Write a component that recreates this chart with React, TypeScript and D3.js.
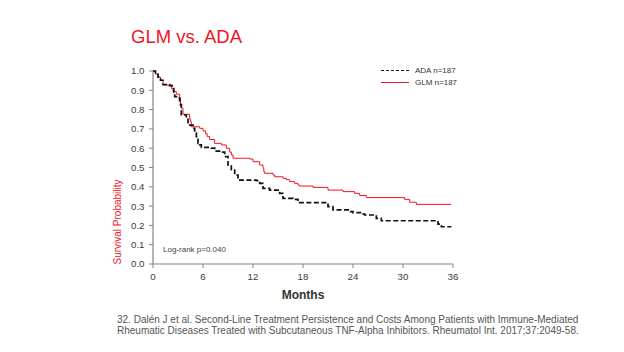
import React from "react";
import * as d3 from "d3";

const glmTimes = [0, 0.3, 0.6, 0.9, 1.2, 2.2, 2.4, 2.8, 3.2, 3.3, 3.4, 3.6, 4.4, 4.5, 4.6, 5.6, 6.0, 6.3, 6.5, 6.8, 7.4, 8.2, 8.8, 9.2, 9.4, 9.6, 11.6, 12.0, 12.8, 13.2, 13.3, 13.4, 14.4, 14.6, 15.6, 16.0, 16.4, 17.0, 17.4, 17.6, 19.2, 21.0, 22.8, 24.2, 24.8, 25.6, 30.2, 30.8, 31.6, 35.8];
const glmSurv = [1.0, 0.984, 0.968, 0.952, 0.927, 0.91, 0.893, 0.88, 0.86, 0.83, 0.807, 0.776, 0.75, 0.737, 0.711, 0.703, 0.69, 0.675, 0.66, 0.645, 0.625, 0.617, 0.6, 0.58, 0.565, 0.548, 0.544, 0.53, 0.513, 0.496, 0.478, 0.47, 0.461, 0.452, 0.444, 0.437, 0.427, 0.418, 0.409, 0.404, 0.397, 0.383, 0.375, 0.366, 0.355, 0.344, 0.335, 0.32, 0.309, 0.309];

const adaTimes = [0, 0.3, 0.6, 0.9, 1.2, 2.0, 2.3, 2.5, 2.6, 3.0, 3.2, 3.3, 3.4, 4.0, 4.2, 4.8, 5.0, 5.2, 5.4, 5.6, 5.8, 7.0, 7.4, 8.2, 8.6, 9.0, 9.4, 9.8, 10.2, 12.4, 12.8, 13.2, 14.0, 15.2, 15.6, 16.8, 17.4, 17.6, 21.0, 21.6, 23.6, 24.0, 25.2, 25.4, 26.8, 27.4, 34.2, 34.6, 35.8];
const adaSurv = [1.0, 0.984, 0.968, 0.952, 0.93, 0.924, 0.914, 0.89, 0.867, 0.86, 0.84, 0.824, 0.772, 0.763, 0.72, 0.703, 0.68, 0.66, 0.625, 0.617, 0.604, 0.6, 0.585, 0.58, 0.556, 0.513, 0.487, 0.461, 0.435, 0.432, 0.418, 0.392, 0.383, 0.366, 0.34, 0.335, 0.323, 0.318, 0.297, 0.28, 0.271, 0.266, 0.259, 0.254, 0.236, 0.224, 0.207, 0.193, 0.193];

const xTicks = [0, 6, 12, 18, 24, 30, 36];
const yTicks = [0, 0.1, 0.2, 0.3, 0.4, 0.5, 0.6, 0.7, 0.8, 0.9, 1.0];

const titleText = "GLM vs. ADA";
const legendLabels = ["ADA n=187", "GLM n=187"];
const pValueText = "Log-rank p=0.040";
const footnoteLines = [
  "32. Dalén J et al. Second-Line Treatment Persistence and Costs Among Patients with Immune-Mediated",
  "Rheumatic Diseases Treated with Subcutaneous TNF-Alpha Inhibitors. Rheumatol Int. 2017;37:2049-58.",
];

const RED = "#f0141e";
const AXIS = "#8a827c";
const FONT = "'Liberation Sans', Arial, sans-serif";

export default function App() {
  const x = d3.scaleLinear().domain([0, 36]).range([153, 453]);
  const y = d3.scaleLinear().domain([0, 1]).range([264, 71]);
  const line = d3
    .line<[number, number]>()
    .x((d) => x(d[0]))
    .y((d) => y(d[1]))
    .curve(d3.curveStepAfter);
  const glmData = glmTimes.map((t, i) => [t, glmSurv[i]] as [number, number]);
  const adaData = adaTimes.map((t, i) => [t, adaSurv[i]] as [number, number]);

  return (
    <svg
      width={624}
      height={352}
      style={{ position: "absolute", left: 0, top: 0, background: "#fff" }}
      fontFamily={FONT}
    >
      <rect width={624} height={352} fill="#fff" />
      <text x={131} y={43} fontSize={18.5} fill={RED}>
        {titleText}
      </text>

      {/* axes */}
      <line x1={x(0)} x2={x(0)} y1={y(0)} y2={y(1)} stroke={AXIS} strokeWidth={1.2} />
      <line x1={x(0)} x2={x(36)} y1={y(0)} y2={y(0)} stroke={AXIS} strokeWidth={1.2} />
      {yTicks.map((t) => (
        <g key={"y" + t}>
          <line x1={x(0) - 4} x2={x(0)} y1={y(t)} y2={y(t)} stroke={AXIS} strokeWidth={1} />
          <text x={144.5} y={y(t) + 3.4} fontSize={9.7} textAnchor="end" fill="#3a3a3a">
            {t.toFixed(1)}
          </text>
        </g>
      ))}
      {xTicks.map((t) => (
        <g key={"x" + t}>
          <line x1={x(t)} x2={x(t)} y1={y(0)} y2={y(0) + 4} stroke={AXIS} strokeWidth={1} />
          <text x={x(t)} y={280} fontSize={9.7} textAnchor="middle" fill="#3a3a3a">
            {t}
          </text>
        </g>
      ))}
      <text x={303} y={299} fontSize={12} fontWeight={600} textAnchor="middle" fill="#333">
        Months
      </text>
      <text
        transform="translate(121,222) rotate(-90)"
        fontSize={10}
        textAnchor="middle"
        fill={RED}
      >
        Survival Probability
      </text>

      {/* curves */}
      <path d={line(glmData) || ""} fill="none" stroke={RED} strokeWidth={1} />
      <path
        d={line(adaData) || ""}
        fill="none"
        stroke="#111"
        strokeWidth={1.7}
        strokeDasharray="5,2.5"
      />

      <text x={163} y={252} fontSize={8} fill="#444">
        {pValueText}
      </text>

      {/* legend */}
      <line x1={381} x2={409} y1={70.5} y2={70.5} stroke="#111" strokeWidth={1} strokeDasharray="3,2" />
      <line x1={381} x2={409} y1={82.5} y2={82.5} stroke={RED} strokeWidth={1} />
      <text x={415} y={73.3} fontSize={8} fill="#333">
        {legendLabels[0]}
      </text>
      <text x={415} y={85.3} fontSize={8} fill="#333">
        {legendLabels[1]}
      </text>

      {/* footnote */}
      {footnoteLines.map((l, i) => (
        <text key={i} x={117} y={323 + i * 11} fontSize={10} fill="#555">
          {l}
        </text>
      ))}
    </svg>
  );
}
